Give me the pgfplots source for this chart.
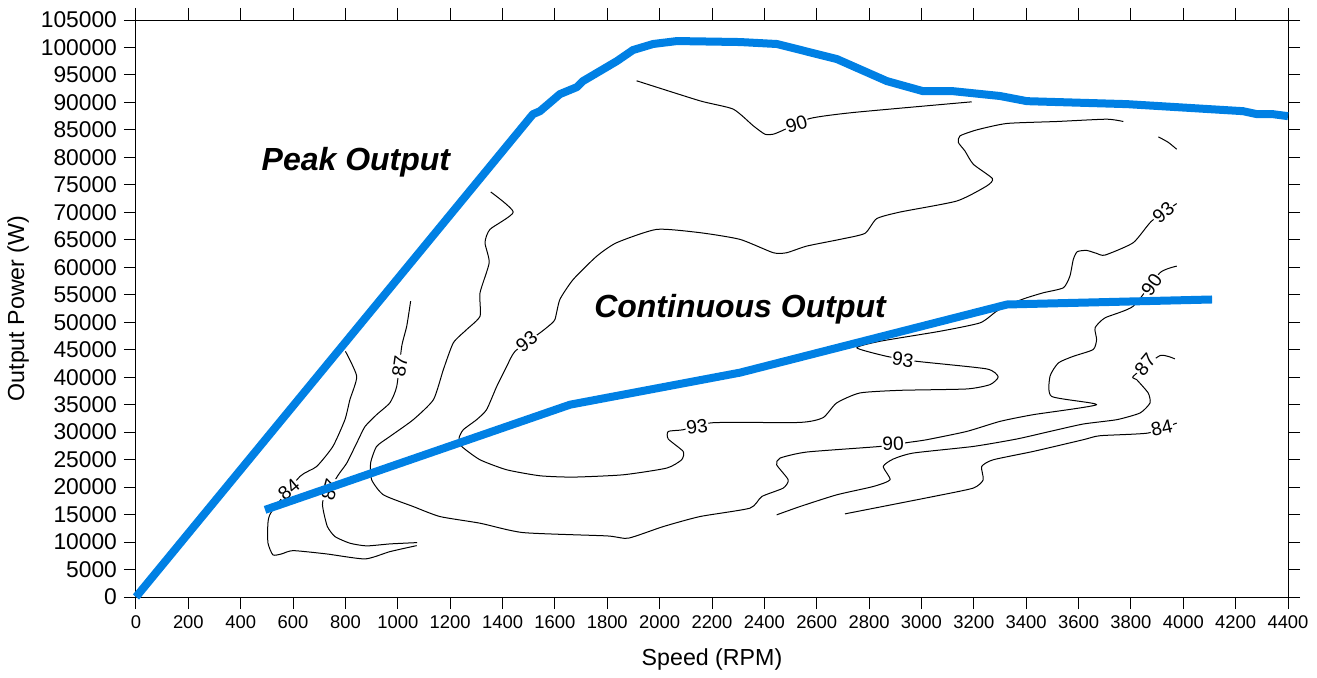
\documentclass[border=0pt]{standalone}
\usepackage{fontspec}
\setmainfont{Liberation Sans}
\usepackage{pgfplots}
\pgfplotsset{compat=1.18}
\definecolor{pkblue}{RGB}{0,128,228}
\tikzset{
  cont/.style={black, line width=0.5pt, mark=none, line join=round, smooth, tension=0.35},
  outline/.style={pkblue, line width=4pt, mark=none, line join=round},
  clab/.style={fill=white, inner sep=0.5pt, font=\fontsize{9.6}{11}\selectfont},
}

\begin{document}
\begin{tikzpicture}
\begin{axis}[
  scale only axis, width=576pt, height=288.5pt,
  xmin=0, xmax=4400, ymin=0, ymax=105000,
  xtick distance=200, ytick distance=5000,
  tick align=outside, major tick length=6pt,
  scaled ticks=false,
  xlabel={Speed (RPM)}, ylabel={Output Power (W)},
  label style={font=\fontsize{11.6}{14}\selectfont},
  xlabel style={at={(axis description cs:0.5,-0.109)}, anchor=center},
  ylabel style={at={(axis description cs:-0.1024,0.5)}, anchor=center},
  x tick label style={font=\fontsize{9.2}{11}\selectfont},
  y tick label style={font=\fontsize{11.4}{13}\selectfont},
  /pgf/number format/fixed, /pgf/number format/1000 sep={},
  /pgf/number format/assume math mode=true,
  axis line style={line width=0.5pt}, major tick style={line width=0.5pt, black},
  clip=false,
]
% --- efficiency contours ---
% 84 left
\addplot[cont] coordinates {(800,44700) (843,40160) (817,35910) (798,32270) (752,27400) (690,23750) (626,21930) (518,15550) (504,13490) (504,9840) (523,7660) (556,7840) (600,8440) (728,7840) (875,6930) (970,8260) (1072,9350)};
% 87 left
\addplot[cont] coordinates {(1049,53830) (1034,49270) (1015,45630) (996,38340) (970,35360) (919,33180) (875,31040) (843,28020) (805,24370) (773,22240) (715,17680) (715,15860) (731,12820) (760,10990) (817,9790) (881,9300) (970,9660) (1074,9900)};
% 90 top
\addplot[cont] coordinates {(1912,93940) (2154,90290) (2281,88780) (2358,85730) (2402,84220) (2434,84220) (2466,84820) (2574,87080) (2740,88170) (3192,90110)};
% 90 main
\addplot[cont] coordinates {(1355,73700) (1441,70050) (1352,66900) (1333,64480) (1349,60830) (1314,55360) (1314,51100) (1263,48670) (1212,46250) (1174,41380) (1136,35910) (1059,32270) (970,29220) (919,27400) (896,24370) (900,21330) (945,18590) (1059,16460) (1161,14640) (1314,13430) (1479,11720) (1798,11120) (1880,10700) (2014,12820) (2154,14640) (2345,16170) (2390,18280) (2472,19820) (2491,21330) (2447,24060) (2460,25280) (2562,26380) (2842,27400) (2950,28130) (3020,28620) (3173,30130) (3300,31960) (3427,33180) (3669,35000) (3497,36510) (3491,40160) (3523,42600) (3580,43800) (3656,45030) (3669,46850) (3663,48980) (3701,50800) (3809,52920) (3911,59010) (3975,60210)};
% 93
\addplot[cont] coordinates {(3771,86530) (3707,86950) (3517,86530) (3326,86170) (3211,85000) (3147,83910) (3141,82710) (3166,81170) (3198,78750) (3271,76140) (3249,74790) (3135,72060) (2918,70050) (2829,68850) (2784,66170) (2689,65080) (2562,63860) (2485,62650) (2434,62650) (2307,65080) (2154,66300) (1989,66900) (1836,64480) (1760,62030) (1670,57790) (1619,54140) (1600,50490) (1575,49270) (1543,48070) (1448,44720) (1416,41980) (1378,38340) (1339,34090) (1301,32270) (1250,30440) (1234,28930) (1244,27400) (1314,24970) (1416,23150) (1543,22060) (1670,21820) (1861,22240) (2027,23460) (2084,24970) (2090,26490) (2033,28750) (2033,30130) (2090,30440) (2204,31720) (2536,31770) (2624,32630) (2676,35310) (2765,37130) (2918,37610) (3173,37860) (3262,38650) (3293,40050) (3249,41510) (2982,42890) (2867,43800) (2753,45340) (2842,46540) (3071,48360) (3224,49890) (3287,52010) (3351,53540) (3402,54450) (3465,55360) (3542,56270) (3567,58390) (3580,61430) (3595,62840) (3631,63070) (3669,62530) (3701,62220) (3809,64480) (3879,68410) (3975,71590)};
\addplot[cont] coordinates {(3905,83730) (3942,82760) (3975,81480)};
% 87 right
\addplot[cont] coordinates {(2447,14950) (2536,16460) (2676,18590) (2816,20110) (2880,21330) (2854,23750) (2892,25100) (2969,26200) (3198,27400) (3364,28750) (3491,30130) (3618,31480) (3746,32270) (3835,33490) (3873,35310) (3866,37130) (3822,39560) (3809,40160) (3911,43930) (3968,43330)};
% 84 right
\addplot[cont] coordinates {(2708,15130) (3045,18280) (3198,19820) (3236,21330) (3230,23750) (3274,24970) (3427,26490) (3618,28620) (3682,29350) (3866,29840) (3975,31660)};
% contour labels
\node[clab, rotate=40] at (axis cs:584,19500) {84};
\node[clab, rotate=75] at (axis cs:741,19500) {87};
\node[clab, rotate=82] at (axis cs:1008,41980) {87};
\node[clab, rotate=38] at (axis cs:1492,46540) {93};
\node[clab, rotate=8] at (axis cs:2143,30990) {93};
\node[clab, rotate=-8] at (axis cs:2929,43200) {93};
\node[clab, rotate=40] at (axis cs:3924,69950) {93};
\node[clab, rotate=16] at (axis cs:2523,86040) {90};
\node[clab, rotate=2] at (axis cs:2892,27840) {90};
\node[clab, rotate=55] at (axis cs:3879,56870) {90};
\node[clab, rotate=50] at (axis cs:3854,42290) {87};
\node[clab, rotate=12] at (axis cs:3918,30750) {84};
% --- output curves ---
\addplot[outline] coordinates {(0,0) (1516,87860) (1543,88410) (1619,91510) (1684,92790) (1707,93880) (1837,97530) (1898,99530) (1975,100630) (2066,101170) (2307,100990) (2448,100630) (2677,97890) (2868,93880) (3006,92050) (3120,92050) (3300,91170) (3403,90230) (3785,89690) (4228,88410) (4282,87860) (4343,87860) (4400,87500)};
\addplot[outline] coordinates {(493,15860) (1658,35000) (2307,40830) (3327,53230) (4110,54140)};
\node[font=\fontsize{16}{19}\selectfont\bfseries\itshape] at (axis cs:840,79100) {Peak Output};
\node[font=\fontsize{16}{19}\selectfont\bfseries\itshape] at (axis cs:2307,52300) {Continuous Output};
\coordinate (bl) at (rel axis cs:0,0);
\coordinate (tr) at (rel axis cs:1,1);
\end{axis}
\path (bl) ++(-68pt,-38pt) coordinate (B1);
\path (tr) ++(14.5pt,10pt) coordinate (B2);
\path (B1) rectangle (B2);
\end{tikzpicture}
\end{document}
